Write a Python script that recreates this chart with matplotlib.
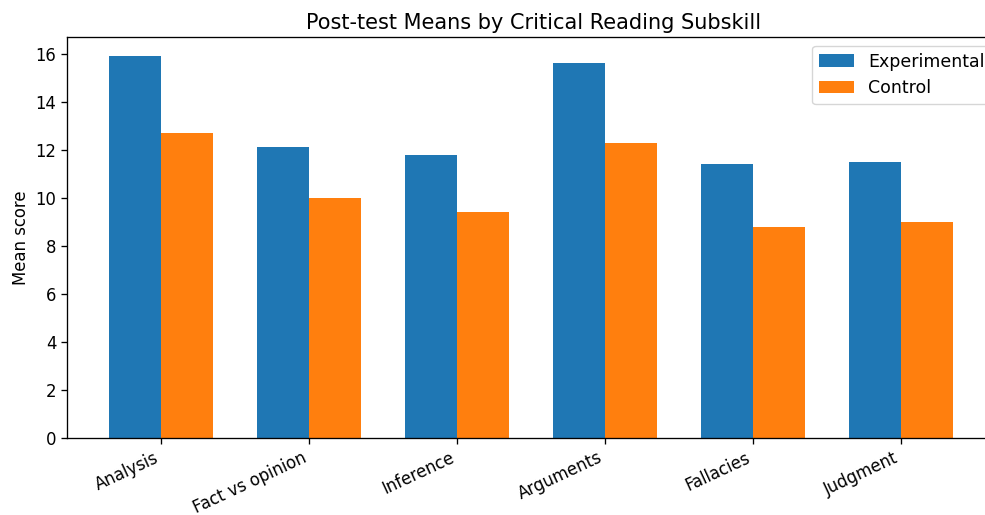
import matplotlib
matplotlib.use("Agg")
import matplotlib.pyplot as plt
import numpy as np

categories = ["Analysis", "Fact vs opinion", "Inference", "Arguments", "Fallacies", "Judgment"]
experimental = [15.9, 12.1, 11.8, 15.6, 11.4, 11.5]
control = [12.7, 10.0, 9.4, 12.3, 8.8, 9.0]

s = 1.19
plt.rcParams.update({
    "font.size": 10 * s,
    "axes.linewidth": 0.8 * s,
    "xtick.major.width": 0.8 * s,
    "ytick.major.width": 0.8 * s,
    "xtick.major.size": 3.5 * s,
    "ytick.major.size": 3.5 * s,
})

fig = plt.figure(figsize=(9.85, 5.15), dpi=100)
left_px, right_px = 67, 1000
ax = fig.add_axes([left_px / 985, (515 - 438) / 515, (right_px - left_px) / 985, (438 - 37) / 515])

x = np.arange(len(categories))
w = 0.35
ax.bar(x - w / 2, experimental, w, label="Experimental", color="#1f77b4")
ax.bar(x + w / 2, control, w, label="Control", color="#ff7f0e")
ax.set_xticks(x)
ax.set_xticklabels(categories, rotation=25, ha="right", fontsize=11.9)
ax.set_xlim(-0.635, -0.635 + (right_px - left_px) / 148)
ax.set_ylabel("Mean score")
ax.set_title("Post-test Means by Critical Reading Subskill", fontsize=15)
ax.legend(loc="upper right", fontsize=12.5)

fig.savefig("out.png", dpi=100)
